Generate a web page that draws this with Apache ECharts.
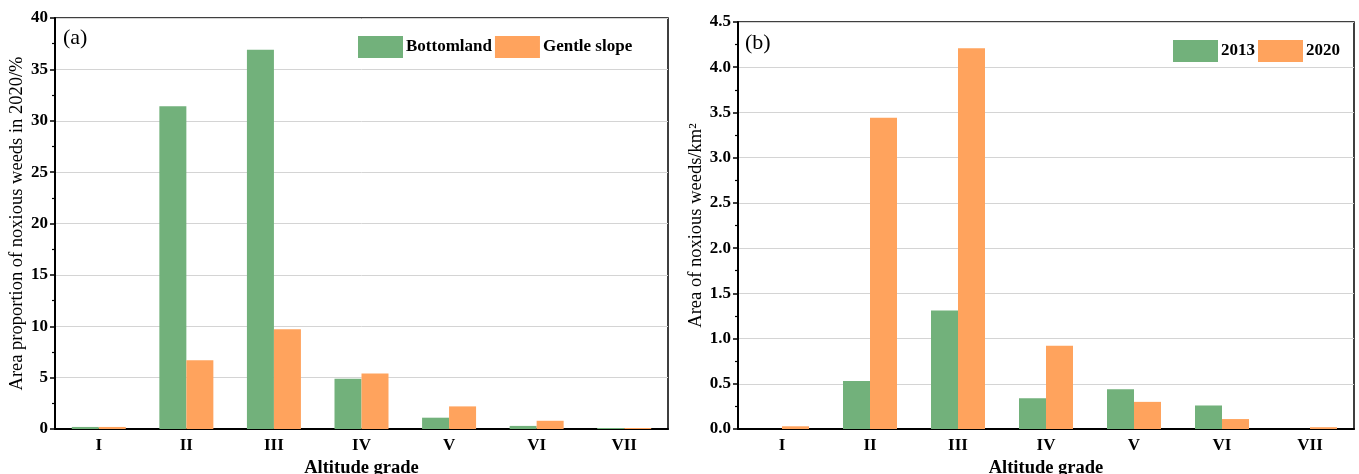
<!DOCTYPE html>
<html>
<head>
<meta charset="utf-8">
<script src="https://cdn.jsdelivr.net/npm/echarts@6/dist/echarts.min.js"></script>
<style>
html,body{margin:0;padding:0;background:#fff;}
#chart{width:1359px;height:474px;}
</style>
</head>
<body>
<div id="chart"></div>
<script>
// ---- data ----
const categories = ['I', 'II', 'III', 'IV', 'V', 'VI', 'VII'];
const bottomland = [0.2, 31.4, 36.9, 4.9, 1.1, 0.3, 0.1];
const gentleSlope = [0.2, 6.7, 9.7, 5.4, 2.2, 0.8, 0.1];
const area2013 = [0, 0.53, 1.31, 0.34, 0.44, 0.26, 0];
const area2020 = [0.03, 3.44, 4.21, 0.92, 0.30, 0.11, 0.02];
const seriesNamesA = ['Bottomland', 'Gentle slope'];
const seriesNamesB = ['2013', '2020'];
const xAxisTitle = 'Altitude grade';
const yTitleA = 'Area proportion of noxious weeds in 2020/%';
const yTitleB = 'Area of noxious weeds/km\u00b2';

const GREEN = '#72B17B';
const ORANGE = '#FFA35D';
const FONT = '"Liberation Serif", "Times New Roman", serif';

const chart = echarts.init(document.getElementById('chart'));

function xAxes(gridIndex) {
  return [{
    type: 'category', gridIndex, data: categories,
    axisLine: { lineStyle: { color: '#000', width: 2 } },
    axisTick: { alignWithLabel: true, length: 5, lineStyle: { color: '#000', width: 1.5 } },
    axisLabel: { color: '#000', fontFamily: FONT, fontWeight: 'bold', fontSize: 17, margin: 8 },
    name: xAxisTitle, nameLocation: 'middle', nameGap: 29,
    nameTextStyle: { color: '#000', fontFamily: FONT, fontWeight: 'bold', fontSize: 18.5 }
  }, {
    type: 'category', gridIndex, data: categories, position: 'bottom',
    axisLine: { show: false },
    axisTick: { alignWithLabel: false, length: 3, lineStyle: { color: '#000', width: 1.2 } },
    axisLabel: { show: false }, splitLine: { show: false }
  }];
}

function yAxis(gridIndex, max, interval, name, fmt) {
  return {
    type: 'value', gridIndex, min: 0, max, interval,
    axisLine: { show: true, lineStyle: { color: '#000', width: 2 } },
    axisTick: { show: true, length: 5, lineStyle: { color: '#000', width: 1.5 } },
    minorTick: { show: true, splitNumber: 2, length: 3, lineStyle: { color: '#000', width: 1.2 } },
    splitLine: { show: true, lineStyle: { color: '#d4d4d4', width: 1 } },
    axisLabel: { color: '#000', fontFamily: FONT, fontWeight: 'bold', fontSize: 17, margin: 7, formatter: fmt },
    name, nameLocation: 'middle', nameGap: 0,
    nameTextStyle: { color: '#000', fontFamily: FONT, fontSize: 18.5 }
  };
}

const legendCommon = {
  icon: 'rect', itemWidth: 45, itemHeight: 22, itemGap: 3, padding: 0,
  textStyle: { color: '#000', fontFamily: FONT, fontWeight: 'bold', fontSize: 17, padding: [0, 0, 0, -2] }
};

const barCommon = { type: 'bar', barWidth: 27, barGap: '0%' };

const xa = xAxes(0), xb = xAxes(1);
const ya = yAxis(0, 40, 5, yTitleA, v => String(v));
ya.nameGap = 25;
const yb = yAxis(1, 4.5, 0.5, yTitleB, v => v.toFixed(1));
yb.nameGap = 27;

chart.setOption({
  animation: false,
  backgroundColor: '#fff',
  title: [
    { text: '(a)', left: 58, top: 22, textStyle: { fontFamily: FONT, fontWeight: 'normal', fontSize: 22, color: '#000' } },
    { text: '(b)', left: 740, top: 27, textStyle: { fontFamily: FONT, fontWeight: 'normal', fontSize: 22, color: '#000' } }
  ],
  legend: [
    Object.assign({ data: seriesNamesA, left: 358, top: 36 }, legendCommon),
    Object.assign({ data: seriesNamesB, left: 1173, top: 40 }, legendCommon)
  ],
  grid: [
    { left: 55, top: 18, width: 613, height: 411, show: true, borderColor: '#000', borderWidth: 1.5, outerBoundsMode: 'none', containLabel: false },
    { left: 738, top: 22, width: 616, height: 407, show: true, borderColor: '#000', borderWidth: 1.5, outerBoundsMode: 'none', containLabel: false }
  ],
  xAxis: [xa[0], xa[1], xb[0], xb[1]],
  yAxis: [ya, yb],
  series: [
    Object.assign({ name: seriesNamesA[0], data: bottomland, xAxisIndex: 0, yAxisIndex: 0, itemStyle: { color: GREEN } }, barCommon),
    Object.assign({ name: seriesNamesA[1], data: gentleSlope, xAxisIndex: 0, yAxisIndex: 0, itemStyle: { color: ORANGE } }, barCommon),
    Object.assign({ name: seriesNamesB[0], data: area2013, xAxisIndex: 2, yAxisIndex: 1, itemStyle: { color: GREEN } }, barCommon),
    Object.assign({ name: seriesNamesB[1], data: area2020, xAxisIndex: 2, yAxisIndex: 1, itemStyle: { color: ORANGE } }, barCommon)
  ]
});
</script>
</body>
</html>
